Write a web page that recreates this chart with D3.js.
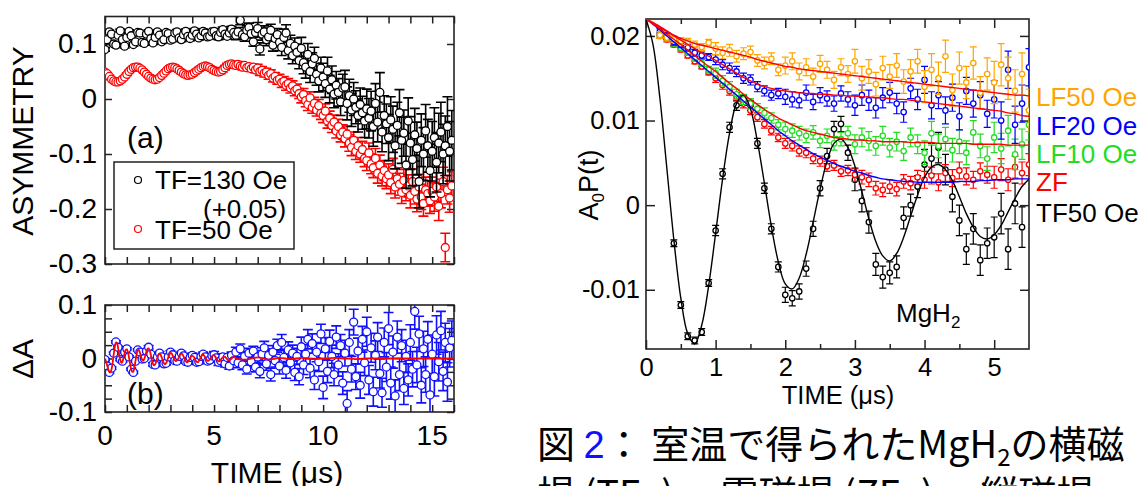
<!DOCTYPE html>
<html><head><meta charset="utf-8">
<script src="https://cdn.jsdelivr.net/npm/d3@7"></script>
<style>body{margin:0;background:#fff}svg{display:block}</style>
</head><body>
<svg id="c" width="1145" height="486"></svg>
<script>
// ---------- DATA ----------
// Panel (a): asymmetry vs time, 0.1 us bins from 0
const tfA130 = [0.090,0.108,0.122,0.118,0.100,0.098,0.116,0.124,0.108,0.096,
0.112,0.123,0.115,0.099,0.104,0.121,0.120,0.103,0.101,0.118,
0.123,0.110,0.102,0.112,0.122,0.116,0.104,0.108,0.121,0.119,
0.107,0.109,0.120,0.122,0.111,0.108,0.117,0.123,0.114,0.110,
0.116,0.124,0.118,0.111,0.115,0.123,0.120,0.113,0.114,0.122,
0.123,0.115,0.113,0.121,0.126,0.118,0.114,0.120,0.127,0.121,
0.116,0.122,0.143,0.117,0.113,0.125,0.130,0.119,0.104,0.121,
0.128,0.091,0.118,0.122,0.108,0.113,0.125,0.098,0.110,0.117,
0.103,0.094,0.112,0.120,0.088,0.101,0.079,0.096,0.085,0.070,
0.092,0.066,0.058,0.081,0.050,0.064,0.074,0.045,0.033,0.056,
0.040,0.028,0.051,0.018,0.035,0.009,0.025,0.012,-0.005,0.020,
0.022,-0.008,0.006,-0.020,0.000,-0.015,-0.030,-0.010,-0.025,-0.040,
-0.018,-0.035,-0.022,-0.050,-0.008,-0.042,0.012,-0.060,-0.030,-0.045,
-0.070,-0.038,-0.055,-0.085,-0.048,-0.025,-0.075,-0.062,-0.120,-0.040,
-0.080,-0.110,-0.065,-0.090,-0.150,-0.075,-0.100,-0.058,-0.085,-0.130,
-0.095,-0.070,-0.115,-0.080,-0.060,-0.100,-0.085,-0.050,-0.095,-0.075];
const tfA50 = [0.049,0.046,0.041,0.036,0.033,0.031,0.031,0.033,0.036,0.040,
0.045,0.050,0.054,0.057,0.058,0.058,0.056,0.053,0.049,0.045,
0.041,0.038,0.036,0.035,0.036,0.039,0.043,0.047,0.051,0.055,
0.057,0.058,0.057,0.055,0.052,0.049,0.046,0.044,0.043,0.044,
0.045,0.048,0.051,0.054,0.057,0.059,0.060,0.059,0.057,0.054,
0.052,0.050,0.049,0.050,0.053,0.057,0.061,0.063,0.064,0.062,
0.061,0.063,0.060,0.058,0.061,0.057,0.059,0.055,0.058,0.053,
0.056,0.050,0.052,0.047,0.049,0.043,0.046,0.038,0.041,0.034,
0.036,0.030,0.032,0.025,0.028,0.020,0.024,0.015,0.018,0.010,
0.004,0.008,-0.003,-0.010,0.002,-0.015,-0.008,-0.020,-0.012,-0.026,
-0.030,-0.022,-0.040,-0.035,-0.048,-0.042,-0.058,-0.050,-0.065,-0.060,
-0.072,-0.064,-0.080,-0.088,-0.075,-0.095,-0.085,-0.100,-0.092,-0.108,
-0.112,-0.098,-0.118,-0.125,-0.108,-0.135,-0.120,-0.140,-0.130,-0.145,
-0.138,-0.152,-0.128,-0.160,-0.145,-0.155,-0.170,-0.148,-0.165,-0.158,
-0.175,-0.150,-0.168,-0.182,-0.160,-0.178,-0.190,-0.165,-0.172,-0.185,
-0.168,-0.178,-0.160,-0.195,-0.172,-0.150,-0.270,-0.165,-0.180,-0.158];
// error bar half-widths per 1 us interval
const errA130 = [0.003,0.003,0.003,0.004,0.004,0.005,0.008,0.011,0.015,0.020,0.025,0.030,0.036,0.042,0.048,0.054];
const errA50  = [0.002,0.002,0.002,0.003,0.003,0.004,0.005,0.007,0.009,0.011,0.013,0.015,0.018,0.020,0.023,0.026];

// Panel (b): residual, 0.1 us bins
const dA = [-0.002,-0.014,-0.026,-0.018,0.010,0.031,0.021,-0.002,-0.005,0.012,
0.018,0.003,-0.020,-0.026,-0.005,0.016,0.012,-0.001,0.000,0.014,
0.021,0.008,-0.011,-0.012,0.003,0.010,0.003,-0.010,-0.009,0.003,
0.012,0.007,-0.004,-0.005,0.004,0.010,0.005,-0.006,-0.007,0.002,
0.006,0.002,-0.007,-0.006,0.004,0.008,0.003,-0.005,-0.003,0.005,
0.007,0.001,-0.007,-0.004,0.003,-0.010,0.002,-0.014,0.006,-0.004,
0.012,-0.008,0.018,-0.012,0.004,-0.020,0.010,-0.006,0.014,-0.016,
0.003,-0.024,0.008,0.020,-0.010,0.006,-0.030,0.012,-0.004,0.024,
-0.014,0.030,0.002,-0.022,0.016,-0.008,0.010,-0.026,0.004,-0.034,
0.022,-0.012,0.008,0.036,-0.018,0.028,-0.040,0.012,-0.006,0.046,
-0.054,0.018,-0.024,0.032,0.004,-0.030,0.040,-0.012,0.024,-0.046,
0.010,-0.084,0.030,-0.020,0.068,-0.034,0.014,-0.050,0.036,-0.008,
0.050,-0.040,0.020,-0.062,0.006,0.040,-0.028,-0.064,0.030,-0.016,
0.056,-0.046,0.012,-0.070,0.040,-0.030,0.024,-0.056,0.004,-0.040,
0.030,-0.020,0.088,-0.012,0.046,-0.050,0.018,-0.030,0.036,-0.068,
0.008,-0.034,0.044,-0.006,0.052,-0.024,0.030,-0.044,0.020,0.034];
const errB = [0.002,0.002,0.003,0.003,0.004,0.006,0.009,0.012,0.015,0.018,0.021,0.024,0.027,0.030,0.033,0.036];
// fit difference curve, 0.05 us steps 0..6
const fitB = [0.000,-0.006,-0.013,-0.020,-0.025,-0.026,-0.020,-0.008,0.008,0.022,
0.030,0.029,0.020,0.007,-0.003,-0.008,-0.006,0.001,0.010,0.016,
0.017,0.012,0.002,-0.010,-0.020,-0.025,-0.024,-0.016,-0.004,0.008,
0.015,0.016,0.011,0.004,-0.002,-0.004,-0.001,0.006,0.013,0.018,
0.019,0.015,0.007,-0.003,-0.010,-0.013,-0.011,-0.005,0.002,0.007,
0.009,0.007,0.002,-0.004,-0.009,-0.011,-0.009,-0.004,0.002,0.007,
0.010,0.010,0.006,0.001,-0.003,-0.005,-0.004,-0.001,0.003,0.007,
0.009,0.008,0.004,-0.001,-0.005,-0.007,-0.006,-0.003,0.001,0.004,
0.005,0.004,0.001,-0.003,-0.006,-0.007,-0.005,-0.001,0.003,0.006,
0.007,0.005,0.002,-0.002,-0.004,-0.004,-0.002,0.001,0.004,0.006,
0.006,0.004,0.000,-0.003,-0.005,-0.005,-0.003,0.000,0.002,0.003,
0.003,0.001,-0.001,-0.003,-0.003,-0.002,0.000,0.002,0.003,0.002,0.000];
// tail of the fit curve, 0.5 us steps 6.5..16
const fitBTail = [-0.002,0.002,-0.002,0.001,-0.001,0.001,-0.001,0.000,0.001,0.000,-0.001,0.000,0.000,0.000,0.000,0.000,0.000,0.000,0.000,0.000];

// Right panel: A0P(t), fits at 0.1 us steps 0..5.5
const fitLF50 = [.0220,.0216,.0211,.0206,.0201,.0197,.0194,.0191,.0189,.0187,.0185,.0183,.0181,.0179,.0177,.0175,.0172,.0170,.0168,.0166,.0164,.0163,.0161,.0160,.0159,.0158,.0157,.0156,.0155,.0154,.0153,.0152,.0151,.0150,.0149,.0148,.0147,.0146,.0145,.0144,.0143,.0142,.0141,.0140,.0139,.0138,.0137,.0136,.0135,.0134,.0133,.0132,.0131,.0130,.0130,.0129];
const fitLF20 = [.0220,.0215,.0210,.0205,.0200,.0195,.0190,.0185,.0180,.0176,.0171,.0166,.0161,.0156,.0151,.0147,.0143,.0140,.0138,.0136,.0135,.0134,.0133,.0132,.0132,.0131,.0131,.0130,.0130,.0129,.0129,.0128,.0128,.0127,.0127,.0126,.0125,.0125,.0124,.0123,.0122,.0121,.0120,.0119,.0118,.0117,.0116,.0115,.0114,.0113,.0112,.0111,.0109,.0108,.0106,.0105];
const fitLF10 = [.0220,.0214,.0208,.0202,.0196,.0190,.0183,.0177,.0170,.0164,.0158,.0151,.0144,.0138,.0131,.0125,.0119,.0113,.0108,.0103,.0099,.0095,.0091,.0088,.0086,.0084,.0082,.0080,.0079,.0078,.0077,.0077,.0076,.0076,.0075,.0075,.0075,.0075,.0074,.0074,.0074,.0074,.0073,.0073,.0073,.0073,.0073,.0072,.0072,.0072,.0072,.0072,.0071,.0071,.0071,.0071];
const fitZF = [.0220,.0214,.0207,.0200,.0193,.0186,.0179,.0172,.0165,.0158,.0151,.0144,.0137,.0130,.0123,.0116,.0109,.0102,.0095,.0088,.0082,.0076,.0071,.0066,.0061,.0057,.0053,.0049,.0046,.0043,.0040,.0038,.0035,.0033,.0031,.0030,.0029,.0028,.0028,.0027,.0027,.0027,.0027,.0027,.0027,.0028,.0028,.0028,.0029,.0029,.0030,.0030,.0030,.0031,.0031,.0031];
const fitTF50 = [.0220,.0190,.0126,.0043,-.0041,-.0110,-.0152,-.0164,-.0142,-.0095,-.0033,.0031,.0085,.0120,.0130,.0114,.0075,.0026,-.0025,-.0067,-.0093,-.0099,-.0086,-.0058,-.0020,.0019,.0052,.0073,.0078,.0068,.0046,.0016,-.0016,-.0043,-.0060,-.0066,-.0057,-.0038,-.0013,.0012,.0033,.0045,.0048,.0042,.0029,.0010,-.0010,-.0026,-.0037,-.0040,-.0035,-.0024,-.0008,.0008,.0022,.0031];
// data points, 0.1 us steps from 0.2 (LF/ZF) and from 0.4 (TF)
const ptsLF50 = [.0201,.0198,.0196,.0194,.0193,.0190,.0187,.0192,.0185,.0180,.0183,.0176,.0179,.0181,.0171,.0168,.0173,.0160,.0165,.0170,.0158,.0163,.0152,.0167,.0160,.0148,.0163,.0155,.0170,.0150,.0158,.0143,.0162,.0152,.0165,.0146,.0158,.0170,.0140,.0160,.0150,.0176,.0136,.0162,.0145,.0168,.0133,.0155,.0145,.0166,.0150,.0135,.0155,.0112];
const ptsLF20 = [.0205,.0200,.0193,.0190,.0186,.0180,.0177,.0175,.0172,.0166,.0162,.0158,.0150,.0148,.0140,.0135,.0130,.0132,.0128,.0125,.0124,.0133,.0122,.0130,.0126,.0120,.0132,.0125,.0118,.0130,.0124,.0115,.0127,.0133,.0120,.0110,.0138,.0125,.0148,.0118,.0130,.0112,.0127,.0105,.0135,.0120,.0130,.0108,.0125,.0100,.0160,.0095,.0120,.0163];
const ptsLF10 = [.0203,.0198,.0192,.0186,.0181,.0174,.0168,.0160,.0156,.0147,.0140,.0131,.0125,.0120,.0114,.0109,.0103,.0095,.0090,.0088,.0085,.0082,.0086,.0076,.0082,.0073,.0078,.0085,.0072,.0080,.0076,.0070,.0082,.0068,.0075,.0064,.0080,.0072,.0062,.0085,.0070,.0078,.0065,.0075,.0062,.0086,.0070,.0055,.0080,.0067,.0088,.0060,.0072,.0095];
const ptsZF = [.0200,.0196,.0190,.0184,.0177,.0170,.0164,.0157,.0150,.0142,.0135,.0128,.0120,.0112,.0104,.0096,.0088,.0080,.0073,.0070,.0064,.0062,.0055,.0052,.0046,.0047,.0040,.0041,.0036,.0033,.0030,.0020,.0018,.0022,.0019,.0028,.0026,.0033,.0030,.0035,.0027,.0038,.0032,.0041,.0034,.0030,.0040,.0036,.0033,.0042,.0030,.0045,.0038,.0048];
const ptsTF50 = [-.0045,-.0118,-.0155,-.0160,-.0150,-.0092,-.0030,.0037,.0092,.0118,.0124,.0118,.0073,.0020,-.0028,-.0073,-.0106,-.0110,-.0102,-.0075,-.0028,.0020,.0058,.0090,.0096,.0062,.0030,.0005,-.0020,-.0070,-.0085,-.0080,-.0073,-.0015,.0000,.0022,.0048,.0055,.0068,.0042,.0010,-.0018,-.0052,-.0028,-.0065,-.0045,-.0038,-.0010,-.0052,.0002,-.0026];
// error half-widths per 1 us interval
const errLF50 = [0.0004,0.0007,0.0010,0.0014,0.0019,0.0025];
const errLF20 = [0.0004,0.0006,0.0009,0.0012,0.0016,0.0022];
const errLF10 = [0.0004,0.0006,0.0008,0.0011,0.0014,0.0018];
const errZF   = [0.0003,0.0005,0.0006,0.0008,0.0010,0.0013];
const errTF50 = [0.0004,0.0006,0.0009,0.0013,0.0018,0.0024];

const xTicksLeft = [0,5,10,15];
const yTicksA = [0.1,0,-0.1,-0.2,-0.3];
const yTicksB = [0.1,0,-0.1];
const xTicksRight = [0,1,2,3,4,5];
const yTicksRight = [0.02,0.01,0,-0.01];
const seriesLabels = ["LF50 Oe","LF20 Oe","LF10 Oe","ZF","TF50 Oe"];

// ---------- DRAW ----------
const svg = d3.select("#c");
const FONT = "'Liberation Sans', Arial, Helvetica, sans-serif";
const fmt = d => d === 0 ? "0" : String(d);

const xL = d3.scaleLinear().domain([0,16]).range([105,454]);
const yA = d3.scaleLinear().domain([-0.3,0.15]).range([264,16.5]);
const yB = d3.scaleLinear().domain([-0.1,0.1]).range([412,305]);
const xR = d3.scaleLinear().domain([0,5.5]).range([646,1029]);
const yR = d3.scaleLinear().domain([-0.017,0.022]).range([349,19]);

function frame(x, y, o) {
  const [x0,x1] = x.range(), [y0,y1] = y.range();
  const g = svg.append("g");
  const style = s => s.call(a => a.select(".domain").remove())
     .attr("font-family", FONT).attr("font-size", o.fs)
     .call(a => a.selectAll("line").attr("stroke","#222").attr("stroke-width",1.5))
     .call(a => a.selectAll("text").attr("fill","#000"));
  if (o.xMinor) {
    g.append("g").attr("transform",`translate(0,${y0})`).call(d3.axisBottom(x).tickValues(o.xMinor).tickSize(-o.minLen).tickFormat("")).call(style);
    g.append("g").attr("transform",`translate(0,${y1})`).call(d3.axisTop(x).tickValues(o.xMinor).tickSize(-o.minLen).tickFormat("")).call(style);
  }
  if (o.yMinor) {
    g.append("g").attr("transform",`translate(${x0},0)`).call(d3.axisLeft(y).tickValues(o.yMinor).tickSize(-o.minLen).tickFormat("")).call(style);
    g.append("g").attr("transform",`translate(${x1},0)`).call(d3.axisRight(y).tickValues(o.yMinor).tickSize(-o.minLen).tickFormat("")).call(style);
  }
  g.append("g").attr("transform",`translate(0,${y0})`).call(d3.axisBottom(x).tickValues(o.xMajor).tickSize(-o.len).tickPadding(o.xPad).tickFormat(o.xLabels ? fmt : "")).call(style);
  g.append("g").attr("transform",`translate(0,${y1})`).call(d3.axisTop(x).tickValues(o.xMajor).tickSize(-o.len).tickFormat("")).call(style);
  g.append("g").attr("transform",`translate(${x0},0)`).call(d3.axisLeft(y).tickValues(o.yMajor).tickSize(-o.len).tickPadding(o.yPad).tickFormat(fmt)).call(style);
  g.append("g").attr("transform",`translate(${x1},0)`).call(d3.axisRight(y).tickValues(o.yMajor).tickSize(-o.len).tickFormat("")).call(style);
  g.append("rect").attr("x",x0).attr("y",y1).attr("width",x1-x0).attr("height",y0-y1)
    .attr("fill","none").attr("stroke","#222").attr("stroke-width",1.6);
  return g;
}

function clip(id, x, y) {
  const [x0,x1] = x.range(), [y0,y1] = y.range();
  svg.append("clipPath").attr("id",id).append("rect").attr("x",x0).attr("y",y1).attr("width",x1-x0).attr("height",y0-y1);
  return svg.append("g").attr("clip-path",`url(#${id})`);
}

function errPoints(g, data, x, y, color, r, cap, sw) {
  const s = g.append("g");
  s.selectAll(".eb").data(data).join("path")
    .attr("d", d => `M${x(d.t)},${y(d.v-d.e)}V${y(d.v+d.e)}M${x(d.t)-cap},${y(d.v-d.e)}H${x(d.t)+cap}M${x(d.t)-cap},${y(d.v+d.e)}H${x(d.t)+cap}`)
    .attr("stroke", color).attr("stroke-width", sw).attr("fill","none");
  s.selectAll("circle").data(data).join("circle")
    .attr("cx", d => x(d.t)).attr("cy", d => y(d.v)).attr("r", r)
    .attr("fill","#fff").attr("stroke", color).attr("stroke-width", 1.3);
}

// Panel (a)
frame(xL, yA, {xMajor: d3.range(0,17), xLabels:false, yMajor: yTicksA, len:7, fs:28, xPad:6, yPad:8});
const gA = clip("ca", xL, yA);
const mk = (vals, errs, t0, dt) => vals.map((v,i) => { const t = t0 + i*dt; return {t, v, e: errs[Math.min(errs.length-1, Math.floor(t))]}; });
errPoints(gA, mk(tfA50, errA50, 0, 0.1), xL, yA, "#ff0000", 4, 5, 1.6);
errPoints(gA, mk(tfA130, errA130, 0, 0.1), xL, yA, "#000", 4, 5, 1.6);

// legend (a)
const lg = svg.append("g").attr("font-family", FONT);
lg.append("rect").attr("x",114).attr("y",162).attr("width",180).attr("height",87).attr("fill","#fff").attr("stroke","#222").attr("stroke-width",1.5);
lg.append("circle").attr("cx",138).attr("cy",180).attr("r",3.5).attr("fill","#fff").attr("stroke","#000").attr("stroke-width",1.2);
lg.append("text").attr("x",155).attr("y",189).attr("font-size",26).text("TF=130 Oe");
lg.append("text").attr("x",203).attr("y",218).attr("font-size",26).text("(+0.05)");
lg.append("circle").attr("cx",138).attr("cy",229).attr("r",3.5).attr("fill","#fff").attr("stroke","#ff0000").attr("stroke-width",1.2);
lg.append("text").attr("x",155).attr("y",239).attr("font-size",26).text("TF=50 Oe");
svg.append("text").attr("x",127).attr("y",148).attr("font-family",FONT).attr("font-size",30).text("(a)");
svg.append("text").attr("transform","translate(33,141) rotate(-90)").attr("text-anchor","middle").attr("font-family",FONT).attr("font-size",30).text("ASYMMETRY");

// Panel (b)
frame(xL, yB, {xMajor: d3.range(0,17), xLabels:false, yMajor: yTicksB, yMinor: [0.075,0.05,0.025,-0.025,-0.05,-0.075], len:7, minLen:7, fs:28, xPad:6, yPad:8});
const gB = clip("cb", xL, yB);
errPoints(gB, mk(dA, errB, 0, 0.1), xL, yB, "#1010ff", 4, 5, 1.6);
const fitBPts = fitB.map((v,i) => ({t: i*0.05, v})).concat(fitBTail.map((v,i) => ({t: 6.5 + i*0.5, v})));
gB.append("path").datum(fitBPts).attr("fill","none").attr("stroke","#ff0000").attr("stroke-width",1.8)
  .attr("d", d3.line().x(d => xL(d.t)).y(d => yB(d.v)).curve(d3.curveCatmullRom));
svg.append("text").attr("x",127).attr("y",404).attr("font-family",FONT).attr("font-size",30).text("(b)");
svg.append("text").attr("transform","translate(33,359) rotate(-90)").attr("text-anchor","middle").attr("font-family",FONT).attr("font-size",30).text("ΔA");
svg.append("g").attr("font-family",FONT).attr("font-size",28).selectAll("text").data(xTicksLeft).join("text")
  .attr("x", d => xL(d)).attr("y", 445).attr("text-anchor","middle").text(fmt);
svg.append("text").attr("x",277).attr("y",483).attr("text-anchor","middle").attr("font-family",FONT).attr("font-size",30).text("TIME (μs)");

// Right panel
frame(xR, yR, {xMajor: xTicksRight, xMinor: [0.5,1.5,2.5,3.5,4.5], xLabels:true, yMajor: yTicksRight, len:9, minLen:5, fs:25.5, xPad:9, yPad:6});
const gR = clip("cr", xR, yR);
const mkR = (vals, errs, t0) => vals.map((v,i) => { const t = t0 + i*0.1; return {t, v, e: errs[Math.min(errs.length-1, Math.floor(t))]}; });
const colTF = "#000", colZF = "#ff0000", col10 = "#22dd22", col20 = "#0000ff", col50 = "#ffa500";
errPoints(gR, mkR(ptsTF50, errTF50, 0.4), xR, yR, colTF, 2.7, 3.5, 1.2);
errPoints(gR, mkR(ptsZF, errZF, 0.2), xR, yR, colZF, 2.7, 3.5, 1.2);
errPoints(gR, mkR(ptsLF10, errLF10, 0.2), xR, yR, col10, 2.7, 3.5, 1.2);
errPoints(gR, mkR(ptsLF20, errLF20, 0.2), xR, yR, col20, 2.7, 3.5, 1.2);
errPoints(gR, mkR(ptsLF50, errLF50, 0.2), xR, yR, col50, 2.7, 3.5, 1.2);
const lineR = d3.line().x(d => xR(d.t)).y(d => yR(d.v)).curve(d3.curveCatmullRom);
const fitData = vals => vals.map((v,i) => ({t: i*0.1, v}));
[[fitTF50,"#000"],[fitZF,"#0000ff"],[fitLF10,"#ff0000"],[fitLF20,"#ff0000"],[fitLF50,"#ff0000"]].forEach(([f,c]) => {
  gR.append("path").datum(fitData(f)).attr("fill","none").attr("stroke",c).attr("stroke-width",1.4).attr("d", lineR);
});
const labCols = [col50, col20, col10, colZF, colTF];
const labY = [106, 135, 163, 191, 222];
svg.append("g").attr("font-family",FONT).attr("font-size",26).selectAll("text").data(seriesLabels).join("text")
  .attr("x",1036).attr("y",(d,i) => labY[i]).attr("fill",(d,i) => labCols[i]).text(d => d);
svg.append("text").attr("x",838).attr("y",404).attr("text-anchor","middle").attr("font-family",FONT).attr("font-size",25.5).text("TIME (μs)");
const ya = svg.append("text").attr("transform","translate(598,185) rotate(-90)").attr("text-anchor","middle").attr("font-family",FONT).attr("font-size",27);
ya.append("tspan").text("A");
ya.append("tspan").attr("font-size",17).attr("dy",6).text("0");
ya.append("tspan").attr("dy",-6).text("P(t)");
const mg = svg.append("text").attr("x",896).attr("y",322).attr("font-family",FONT).attr("font-size",26);
mg.append("tspan").text("MgH");
mg.append("tspan").attr("font-size",17).attr("dy",6).text("2");

// caption
const CJK = "'Noto Sans CJK JP', 'Noto Sans CJK SC', sans-serif";
const cap = svg.append("text").attr("x",537).attr("y",458).attr("font-family",CJK).attr("font-size",38);
cap.append("tspan").text("図 ");
cap.append("tspan").attr("fill","#1010ff").attr("font-family",FONT).text("2");
cap.append("tspan").text("： 室温で得られたMgH");
cap.append("tspan").attr("font-size",24).attr("dy",8).text("2");
cap.append("tspan").attr("dy",-8).text("の横磁");
svg.append("text").attr("x",537).attr("y",508).attr("font-family",CJK).attr("font-size",38).attr("xml:space","preserve").style("white-space","pre").text("場 (TF=)、 零磁場 (ZF=)、 縦磁場");
</script>
</body></html>
